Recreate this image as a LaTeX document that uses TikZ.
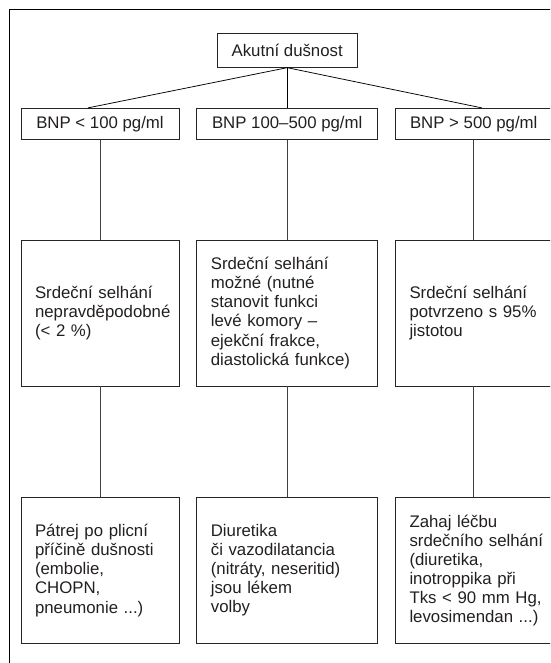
\documentclass[tikz,border=0pt]{standalone}
\usepackage{fontspec}
\setmainfont{Liberation Sans}
\definecolor{ink}{HTML}{231F20}
\newcommand{\boxline}[1]{\mbox{#1}}
\begin{document}
\begin{tikzpicture}[x=1pt,y=-1pt,
  box/.style={draw=black!85, line width=0.75pt, text=ink, font=\fontsize{16.8}{19.1}\selectfont, inner sep=0pt},
  smallbox/.style={box, minimum height=31.5pt, align=center},
  tallbox/.style={box, minimum height=146pt, align=left, inner xsep=14pt},
  conn/.style={draw=black!75, line width=0.75pt},
  fan/.style={draw=black, line width=0.75pt}]
\useasboundingbox (0,0) rectangle (550,663);
\clip (0,0) rectangle (550,663);
\draw[line width=0.8pt, black] (9,9) rectangle (620,720);

\node[box, minimum width=140.6pt, minimum height=34pt] (top) at (287.2,50.3) {Akutní dušnost};

\node[smallbox, minimum width=158pt] (b1) at (100,124) {BNP < 100 pg/ml};
\node[smallbox, minimum width=180.7pt] (b2) at (287.2,124) {BNP 100–500 pg/ml};
\node[smallbox, minimum width=156.5pt] (b3) at (473.75,124) {BNP > 500 pg/ml};

\node[tallbox, text width=130pt] (m1) at (100,313) {\boxline{Srdeční selhání}\\\boxline{nepravděpodobné}\\\boxline{(< 2 \%)}};
\node[tallbox, text width=152.7pt] (m2) at (287.2,313) {\boxline{Srdeční selhání}\\\boxline{možné (nutné}\\\boxline{stanovit funkci}\\\boxline{levé komory –}\\\boxline{ejekční frakce,}\\\boxline{diastolická funkce)}};
\node[tallbox, text width=128.5pt] (m3) at (473.75,313) {\boxline{Srdeční selhání}\\\boxline{potvrzeno s 95\%}\\\boxline{jistotou}};

\node[tallbox, text width=130pt] (l1) at (100,570.4) {\boxline{Pátrej po plicní}\\\boxline{příčině dušnosti}\\\boxline{(embolie,}\\\boxline{CHOPN,}\\\boxline{pneumonie ...)}};
\node[tallbox, text width=152.7pt] (l2) at (287.2,570.4) {\boxline{Diuretika}\\\boxline{či vazodilatancia}\\\boxline{(nitráty, neseritid)}\\\boxline{jsou lékem}\\\boxline{volby}};
\node[tallbox, text width=128.5pt] (l3) at (473.75,570.4) {\boxline{Zahaj léčbu}\\\boxline{srdečního selhání}\\\boxline{(diuretika,}\\\boxline{inotroppika při}\\\boxline{Tks < 90 mm Hg,}\\\boxline{levosimendan ...)}};

\draw[fan] (top.south) -- ([xshift=-12pt]b1.north);
\draw[fan] (top.south) -- (b2.north);
\draw[fan] (top.south) -- ([xshift=8pt]b3.north);

\draw[conn] (b1.south) -- (m1.north);
\draw[conn] (b2.south) -- (m2.north);
\draw[conn] (b3.south) -- (m3.north);
\draw[conn] (m1.south) -- (l1.north);
\draw[conn] (m2.south) -- (l2.north);
\draw[conn] (m3.south) -- (l3.north);
\end{tikzpicture}
\end{document}
